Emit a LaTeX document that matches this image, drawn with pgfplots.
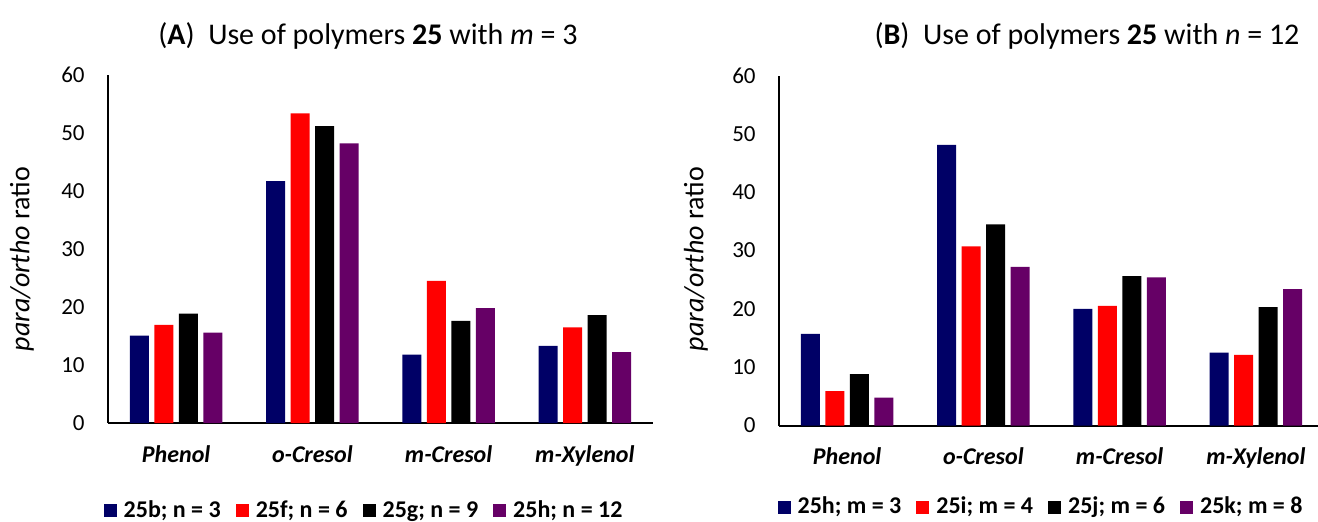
\documentclass[border=0pt]{standalone}
\usepackage{fontspec}
\setmainfont{Carlito}
\usepackage{pgfplots}
\pgfplotsset{compat=1.18}
\definecolor{cnavy}{HTML}{000066}
\definecolor{cred}{HTML}{FF0000}
\definecolor{cpurp}{HTML}{660066}
\pgfplotsset{
  mybars/.style={
    scale only axis,
    width=272.5pt,
    axis x line=bottom, axis y line=left,
    axis line style={line width=1pt,-},
    ymin=0, ymax=60, ytick={0,10,...,60},
    xmin=-0.5, xmax=3.5,
    xtick={0,1,2,3},
    xticklabels={\textbf{\textit{Phenol}},\textbf{\textit{o-Cresol}},\textbf{\textit{m-Cresol}},\textbf{\textit{m-Xylenol}}},
    major tick length=0pt,
    ybar=2.75pt, bar width=9.5pt,
    /pgf/number format/assume math mode=true,
    yticklabel style={font=\fontsize{11.5}{13}\selectfont, anchor=east, inner sep=0pt, xshift=-11.5pt},
    xticklabel style={font=\fontsize{12}{14}\selectfont, anchor=base, inner sep=0pt, yshift=-19.5pt},
    clip=false,
    legend columns=4,
    legend style={draw=none, fill=none, font=\bfseries\fontsize{12}{14}\selectfont,
      nodes={inner sep=0pt},
      /tikz/every odd column/.append style={column sep=3.5pt},
      /tikz/every even column/.append style={column sep=7.5pt},
      inner sep=0pt, anchor=center},
    legend image code/.code={\fill[##1] (0pt,-3.25pt) rectangle (6.5pt,3.25pt);},
  }
}
\begin{document}
\begin{tikzpicture}
\path[use as bounding box] (0,0) rectangle (659pt,260.5pt);
% Panel A
\begin{axis}[mybars, at={(54pt,49pt)}, anchor=south west, height=174pt,
  legend style={at={(axis description cs:0.468,-0.252)}}]
\addplot[fill=cnavy, draw=none] coordinates {(0,15.05) (1,41.7) (2,11.8) (3,13.3)};
\addplot[fill=cred, draw=none] coordinates {(0,16.9) (1,53.4) (2,24.5) (3,16.5)};
\addplot[fill=black, draw=none] coordinates {(0,18.85) (1,51.2) (2,17.6) (3,18.6)};
\addplot[fill=cpurp, draw=none] coordinates {(0,15.6) (1,48.2) (2,19.8) (3,12.2)};
\legend{25b; n = 3, 25f; n = 6, 25g; n = 9, 25h; n = 12}
\end{axis}
% Panel B
\begin{axis}[mybars, at={(389.5pt,47.75pt)}, anchor=south west, height=175pt,
  legend style={at={(axis description cs:0.479,-0.233)}}]
\addplot[fill=cnavy, draw=none] coordinates {(0,15.7) (1,48.1) (2,20.0) (3,12.5)};
\addplot[fill=cred, draw=none] coordinates {(0,5.9) (1,30.7) (2,20.5) (3,12.1)};
\addplot[fill=black, draw=none] coordinates {(0,8.8) (1,34.5) (2,25.6) (3,20.3)};
\addplot[fill=cpurp, draw=none] coordinates {(0,4.8) (1,27.2) (2,25.4) (3,23.4)};
\legend{25h; m = 3, 25i; m = 4, 25j; m = 6, 25k; m = 8}
\end{axis}
% titles
\node[anchor=base, font=\fontsize{15}{18}\selectfont] at (184pt,238pt)
  {(\textbf{A})\ \ Use of polymers \textbf{25} with \textit{m} = 3};
\node[anchor=base, font=\fontsize{15}{18}\selectfont] at (543.5pt,238pt)
  {(\textbf{B})\ \ Use of polymers \textbf{25} with \textit{n} = 12};
% y labels
\node[rotate=90, font=\fontsize{14}{16}\selectfont] at (11pt,131pt) {\textit{para/ortho} ratio};
\node[rotate=90, font=\fontsize{14}{16}\selectfont] at (348pt,131pt) {\textit{para/ortho} ratio};
\end{tikzpicture}
\end{document}
